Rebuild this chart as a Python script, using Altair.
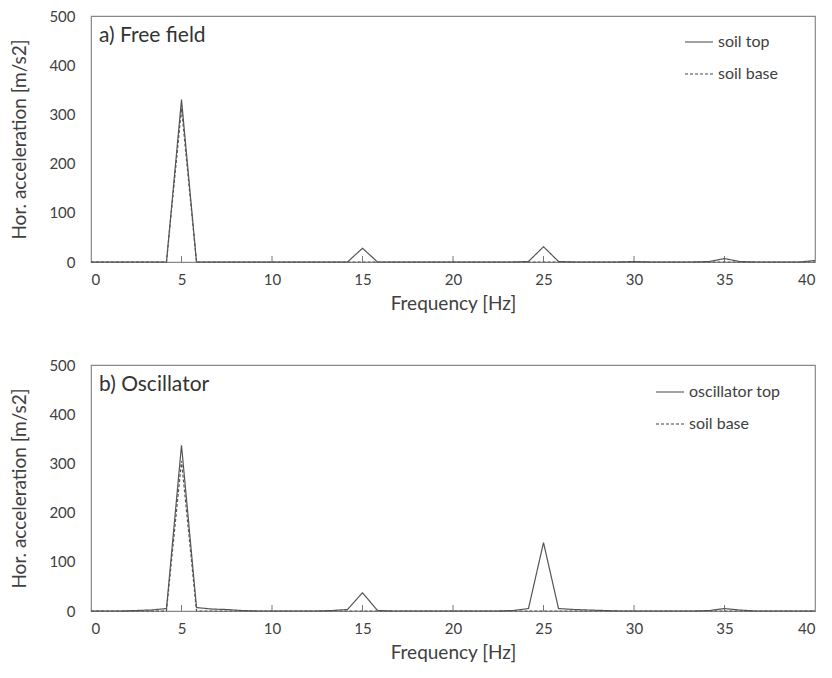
import altair as alt
import pandas as pd

freq = [0, 0.83, 1.67, 2.5, 3.33, 4.17, 5, 5.83, 6.67, 7.5, 8.33, 9.17, 10,
        10.83, 11.67, 12.5, 13.33, 14.17, 15, 15.83, 16.67, 17.5, 18.33, 19.17, 20,
        20.83, 21.67, 22.5, 23.33, 24.17, 25, 25.83, 26.67, 27.5, 28.33, 29.17, 30,
        30.83, 31.67, 32.5, 33.33, 34.17, 35, 35.83, 36.67, 37.5, 38.33, 39.17, 40]

# a) Free field
ff_soil_top = [0, 0, 0, 0, 0, 0, 330, 0, 0, 0, 0, 0, 0,
               0, 0, 0, 0, 0, 28, 0, 0, 0, 0, 0, 0,
               0, 0, 0, 0, 1, 31, 1, 0, 0, 0, 0, 1,
               0, 0, 0, 0, 1, 7, 1, 0, 0, 0, 0, 3]
ff_soil_base = [0, 0, 0, 0, 0, 0, 312, 0, 0, 0, 0, 0, 0,
                0, 0, 0, 0, 0, 0, 0, 0, 0, 0, 0, 0,
                0, 0, 0, 0, 0, 0, 0, 0, 0, 0, 0, 0,
                0, 0, 0, 0, 0, 0, 0, 0, 0, 0, 0, 0]

# b) Oscillator
os_osc_top = [0, 0, 0, 1, 2, 5, 337, 7, 4, 3, 1, 0, 0,
              0, 0, 0, 1, 3, 37, 1, 0, 0, 0, 0, 0,
              0, 0, 0, 1, 5, 139, 5, 3, 2, 1, 0, 0,
              0, 0, 0, 0, 1, 5, 2, 0, 0, 0, 0, 0]
os_soil_base = [0, 0, 0, 0, 0, 0, 305, 0, 0, 0, 0, 0, 0,
                0, 0, 0, 0, 0, 0, 0, 0, 0, 0, 0, 0,
                0, 0, 0, 0, 0, 0, 0, 0, 0, 0, 0, 0,
                0, 0, 0, 0, 0, 0, 0, 0, 0, 0, 0, 0]

x_ticks = [0, 5, 10, 15, 20, 25, 30, 35, 40]
inner_ticks = [5, 10, 15, 20, 25, 30, 35]
y_ticks = [0, 100, 200, 300, 400, 500]

FONT = "Lato"
TXT = "#404040"
W, H = 724, 246


def panel(label, name1, s1, name2, s2, leg_x, leg_y):
    df = pd.DataFrame({
        "freq": freq + freq,
        "acc": s1 + s2,
        "series": [name1] * len(freq) + [name2] * len(freq),
    })
    xs = alt.Scale(domain=[0, 40], nice=False, zero=False)
    ys = alt.Scale(domain=[0, 500], nice=False)
    lines = alt.Chart(df).mark_line(strokeWidth=1.2, color="#555555").encode(
        x=alt.X("freq:Q", scale=xs,
                axis=alt.Axis(values=x_ticks, title="Frequency [Hz]", grid=False,
                              ticks=False, domain=False, labelPadding=10,
                              titlePadding=7, labelFontSize=15, titleFontSize=19)),
        y=alt.Y("acc:Q", scale=ys,
                axis=alt.Axis(values=y_ticks, title="Hor.  acceleration [m/s2]",
                              grid=False, ticks=False, domain=False,
                              labelPadding=16, titlePadding=19,
                              labelFontSize=15, titleFontSize=19)),
        strokeDash=alt.StrokeDash(
            "series:N",
            scale=alt.Scale(domain=[name1, name2], range=[[1, 0], [3, 2]]),
            legend=alt.Legend(title=None, orient="none", legendX=leg_x, legendY=leg_y,
                              symbolType="stroke", symbolSize=784,
                              symbolStrokeWidth=1.2, symbolStrokeColor="#444444",
                              labelFont=FONT, labelFontSize=16, labelColor=TXT,
                              labelOffset=4, rowPadding=9, padding=0)),
    )
    ticks = alt.Chart(pd.DataFrame({"t": inner_ticks})).mark_rule(
        color="#777777", strokeWidth=1).encode(
        x=alt.X("t:Q", scale=xs), y=alt.value(H), y2=alt.value(H - 6))
    text = alt.Chart(pd.DataFrame({"label": [label]})).mark_text(
        align="left", baseline="middle", font=FONT, fontSize=21, color="#333333").encode(
        text="label:N", x=alt.value(8), y=alt.value(20))
    return alt.layer(ticks, lines, text).properties(width=W, height=H)


top = panel("a) Free field", "soil top", ff_soil_top, "soil base", ff_soil_base, 593, 11)
bottom = panel("b) Oscillator", "oscillator top", os_osc_top, "soil base", os_soil_base, 564, 12)

chart = alt.vconcat(top, bottom, spacing=43).resolve_scale(
    strokeDash="independent").resolve_legend(strokeDash="independent").properties(
    padding={"left": 2, "top": 0, "right": 0, "bottom": 0}
).configure_view(stroke="#888888", strokeWidth=1.2).configure_axis(
    labelFont=FONT, titleFont=FONT, labelColor=TXT, titleColor=TXT,
    titleFontWeight="normal")

chart.save("out.html", embed_options={"renderer": "svg", "actions": False})
